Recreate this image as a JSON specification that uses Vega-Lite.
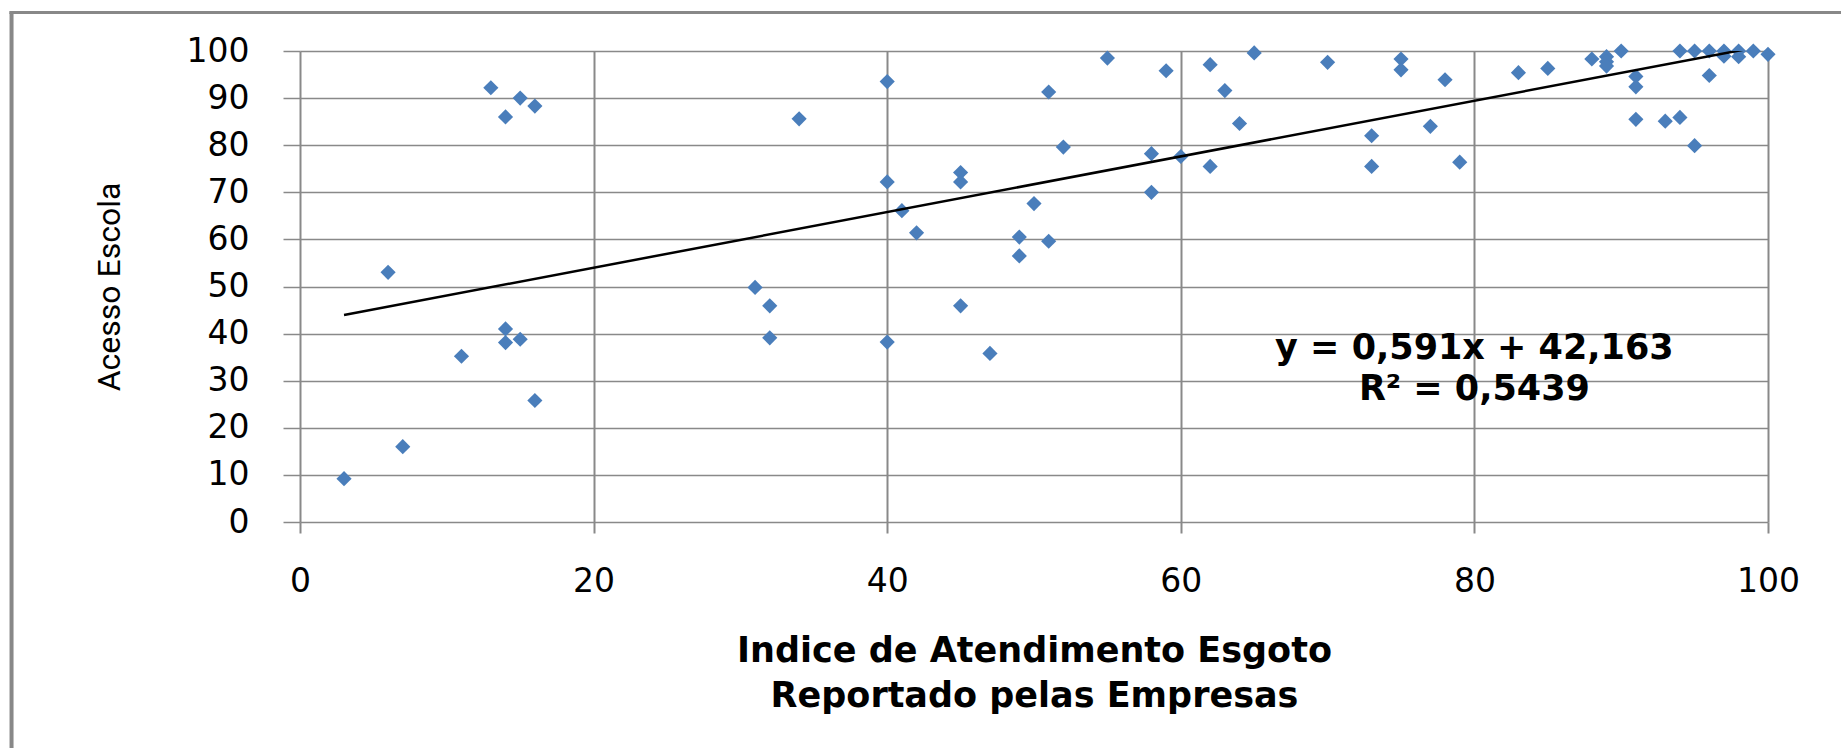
{
  "$schema": "https://vega.github.io/schema/vega-lite/v6.json",
  "width": 1468,
  "height": 471,
  "autosize": {"type": "none"},
  "padding": {"left": 300, "top": 51, "right": 73, "bottom": 226},
  "background": "white",
  "config": {"view": {"stroke": null}, "font": "DejaVu Sans"},
  "datasets": {
    "points": [
      {"x": 3, "y": 9.2}, {"x": 6, "y": 53}, {"x": 7, "y": 16}, {"x": 11, "y": 35.2},
      {"x": 13, "y": 92.2}, {"x": 14, "y": 86}, {"x": 15, "y": 90}, {"x": 16, "y": 88.3},
      {"x": 14, "y": 41}, {"x": 14, "y": 38.1}, {"x": 15, "y": 38.8}, {"x": 16, "y": 25.8},
      {"x": 31, "y": 49.8}, {"x": 32, "y": 45.9}, {"x": 32, "y": 39.1}, {"x": 34, "y": 85.6},
      {"x": 40, "y": 93.5}, {"x": 40, "y": 72.2}, {"x": 40, "y": 38.2}, {"x": 41, "y": 66.1},
      {"x": 42, "y": 61.4}, {"x": 45, "y": 74.2}, {"x": 45, "y": 72.2}, {"x": 45, "y": 45.9},
      {"x": 47, "y": 35.8}, {"x": 49, "y": 60.5}, {"x": 49, "y": 56.5}, {"x": 50, "y": 67.6},
      {"x": 51, "y": 91.3}, {"x": 51, "y": 59.6}, {"x": 52, "y": 79.6}, {"x": 55, "y": 98.5},
      {"x": 58, "y": 78.2}, {"x": 58, "y": 70}, {"x": 59, "y": 95.8}, {"x": 60, "y": 77.6},
      {"x": 62, "y": 97.1}, {"x": 62, "y": 75.5}, {"x": 63, "y": 91.6}, {"x": 64, "y": 84.6},
      {"x": 65, "y": 99.6}, {"x": 70, "y": 97.6}, {"x": 73, "y": 82}, {"x": 73, "y": 75.5},
      {"x": 75, "y": 98.3}, {"x": 75, "y": 96}, {"x": 77, "y": 84}, {"x": 78, "y": 93.9},
      {"x": 79, "y": 76.4}, {"x": 83, "y": 95.4}, {"x": 85, "y": 96.3}, {"x": 88, "y": 98.3},
      {"x": 89, "y": 98.8}, {"x": 89, "y": 97.7}, {"x": 89, "y": 96.8}, {"x": 90, "y": 100},
      {"x": 91, "y": 94.6}, {"x": 91, "y": 92.4}, {"x": 91, "y": 85.5}, {"x": 93, "y": 85.1},
      {"x": 94, "y": 85.9}, {"x": 95, "y": 79.9}, {"x": 94, "y": 100}, {"x": 95, "y": 100},
      {"x": 96, "y": 100}, {"x": 96, "y": 94.8}, {"x": 97, "y": 100}, {"x": 97, "y": 98.9},
      {"x": 98, "y": 100}, {"x": 98, "y": 98.8}, {"x": 99, "y": 100}, {"x": 100, "y": 99.3}
    ],
    "trend": [
      {"x": 3, "y": 43.94},
      {"x": 100, "y": 101.26}
    ]
  },
  "layer": [
    {
      "data": {"values": [{}]},
      "mark": {"type": "rule", "color": "#888888", "strokeWidth": 4, "clip": false},
      "encoding": {
        "x": {"datum": -19.65, "type": "quantitative", "scale": {"domain": [0, 100], "nice": false, "zero": false}},
        "y": {"datum": 108.2, "type": "quantitative", "scale": {"domain": [0, 100], "nice": false, "zero": false}},
        "y2": {"datum": -50}
      }
    },
    {
      "data": {"values": [{}]},
      "mark": {"type": "rule", "color": "#888888", "strokeWidth": 3, "clip": false},
      "encoding": {
        "x": {"datum": -19.8, "type": "quantitative"},
        "x2": {"datum": 106},
        "y": {"datum": 108.2, "type": "quantitative"}
      }
    },
    {
      "data": {"name": "points"},
      "mark": {"type": "point", "shape": "diamond", "filled": true, "size": 230, "color": "#4a7ebb", "opacity": 1},
      "encoding": {
        "x": {
          "field": "x", "type": "quantitative",
          "scale": {"domain": [0, 100], "nice": false, "zero": false},
          "axis": {
            "title": ["Indice de Atendimento Esgoto", "Reportado pelas Empresas"],
            "values": [0, 20, 40, 60, 80, 100],
            "grid": true, "gridColor": "#898989", "gridWidth": 2,
            "domain": false,
            "ticks": true, "tickSize": 11, "tickColor": "#898989", "tickWidth": 2,
            "labelFont": "DejaVu Sans", "labelFontSize": 33, "labelColor": "#000000",
            "labelPadding": 32, "labelFlush": false, "labelOverlap": false,
            "titleFont": "DejaVu Sans", "titleFontSize": 35, "titleFontWeight": "bold",
            "titleColor": "#000000", "titlePadding": 35, "titleLineHeight": 45
          }
        },
        "y": {
          "field": "y", "type": "quantitative",
          "scale": {"domain": [0, 100], "nice": false, "zero": false},
          "axis": {
            "title": "Acesso Escola",
            "values": [0, 10, 20, 30, 40, 50, 60, 70, 80, 90, 100],
            "grid": true, "gridColor": "#898989", "gridWidth": 1.5,
            "domain": false,
            "ticks": true, "tickSize": 17, "tickColor": "#898989", "tickWidth": 1.5,
            "labelFont": "DejaVu Sans", "labelFontSize": 33, "labelColor": "#000000",
            "labelPadding": 34, "labelOverlap": false,
            "titleFont": "Roboto", "titleFontSize": 32, "titleFontWeight": "normal",
            "titleColor": "#000000", "titlePadding": 60
          }
        }
      }
    },
    {
      "data": {"name": "trend"},
      "mark": {"type": "line", "color": "#000000", "strokeWidth": 2.5, "clip": true},
      "encoding": {
        "x": {"field": "x", "type": "quantitative"},
        "y": {"field": "y", "type": "quantitative"}
      }
    },
    {
      "data": {"values": [{}]},
      "mark": {"type": "text", "font": "DejaVu Sans", "fontWeight": "bold", "fontSize": 35, "align": "center", "baseline": "middle", "lineHeight": 41.5, "color": "#000000"},
      "encoding": {
        "x": {"datum": 80, "type": "quantitative"},
        "y": {"datum": 37, "type": "quantitative"},
        "text": {"value": ["y = 0,591x + 42,163", "R² = 0,5439"]}
      }
    }
  ]
}
